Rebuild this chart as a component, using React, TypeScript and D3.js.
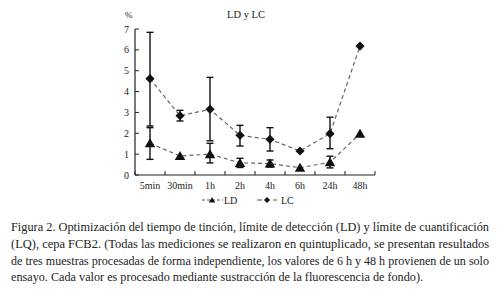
import React from "react";
import * as d3 from "d3";

const categories = ["5min", "30min", "1h", "2h", "4h", "6h", "24h", "48h"];
const ldValues = [1.52, 0.91, 1.0, 0.58, 0.55, 0.35, 0.61, 1.98];
const ldErrHigh: (number | null)[] = [2.27, null, 1.52, 0.8, 0.72, null, 0.9, null];
const ldErrLow: (number | null)[] = [0.75, null, 0.58, 0.36, 0.38, null, 0.34, null];
const lcValues = [4.62, 2.84, 3.15, 1.9, 1.71, 1.15, 1.98, 6.18];
const lcErrHigh: (number | null)[] = [6.84, 3.1, 4.68, 2.38, 2.27, null, 2.77, null];
const lcErrLow: (number | null)[] = [2.35, 2.59, 1.64, 1.39, 1.15, null, 1.26, null];
const yTicks = [0, 1, 2, 3, 4, 5, 6, 7];
const captionLines = [
  "Figura 2. Optimización del tiempo de tinción, límite de detección (LD) y límite de cuantificación",
  "(LQ), cepa FCB2. (Todas las mediciones se realizaron en quintuplicado, se presentan resultados",
  "de tres muestras procesadas de forma independiente, los valores de 6 h y 48 h provienen de un solo",
  "ensayo. Cada valor es procesado mediante sustracción de la fluorescencia de fondo).",
];

const W = 503;
const H = 297;
const plot = { left: 135, right: 375, top: 29, bottom: 175 };
const serif = "'Liberation Serif', 'DejaVu Serif', serif";

const triPath = (cx: number, cy: number, s: number) =>
  `M${cx},${cy - s}L${cx + s * 1.05},${cy + s * 0.8}L${cx - s * 1.05},${cy + s * 0.8}Z`;
const diaPath = (cx: number, cy: number, s: number) =>
  `M${cx},${cy - s}L${cx + s},${cy}L${cx},${cy + s}L${cx - s},${cy}Z`;

export default function App() {
  const x = d3.scaleBand<string>().domain(categories).range([plot.left, plot.right]);
  const y = d3.scaleLinear().domain([0, 7]).range([plot.bottom, plot.top]);
  const cx = (c: string) => (x(c) as number) + x.bandwidth() / 2;
  const line = d3
    .line<number>()
    .x((_, i) => cx(categories[i]))
    .y((v) => y(v));

  const errBars = (hi: (number | null)[], lo: (number | null)[], key: string) =>
    categories.map((c, i) => {
      const h = hi[i];
      const l = lo[i];
      if (h == null || l == null) return null;
      const px = cx(c);
      return (
        <g key={key + i} stroke="#111" strokeWidth={1.4}>
          <line x1={px} x2={px} y1={y(h)} y2={y(l)} />
          <line x1={px - 3.5} x2={px + 3.5} y1={y(h)} y2={y(h)} />
          <line x1={px - 3.5} x2={px + 3.5} y1={y(l)} y2={y(l)} />
        </g>
      );
    });

  const boundaries = d3.range(categories.length + 1).map((i) => plot.left + i * x.bandwidth());

  return (
    <svg
      width={W}
      height={H}
      style={{ position: "absolute", left: 0, top: 0, background: "#fff", fontFamily: serif }}
    >
      <rect width={W} height={H} fill="#fff" />
      <text x={125} y={18} fontSize={9} fill="#222">%</text>
      <text x={246} y={18} fontSize={10.5} textAnchor="middle" fill="#222">LD y LC</text>

      {/* axes */}
      <line x1={plot.left} x2={plot.left} y1={plot.top} y2={plot.bottom} stroke="#222" strokeWidth={1.2} />
      <line x1={plot.left} x2={plot.right} y1={plot.bottom} y2={plot.bottom} stroke="#222" strokeWidth={1.2} />
      {yTicks.map((t) => (
        <g key={"yt" + t}>
          <line x1={plot.left} x2={plot.left + 4} y1={y(t)} y2={y(t)} stroke="#222" strokeWidth={1} />
          <text x={plot.left - 6} y={y(t) + 3.5} fontSize={10} textAnchor="end" fill="#222">
            {t}
          </text>
        </g>
      ))}
      {boundaries.map((b, i) => (
        <line key={"xt" + i} x1={b} x2={b} y1={plot.bottom} y2={plot.bottom - 4} stroke="#222" strokeWidth={1} />
      ))}
      {categories.map((c) => (
        <text key={"xl" + c} x={cx(c)} y={189} fontSize={10} textAnchor="middle" fill="#222">
          {c}
        </text>
      ))}

      {/* lines */}
      <path d={line(ldValues) || ""} fill="none" stroke="#666" strokeWidth={1.2} strokeDasharray="4,3" />
      <path d={line(lcValues) || ""} fill="none" stroke="#666" strokeWidth={1.2} strokeDasharray="4,3" />

      {errBars(lcErrHigh, lcErrLow, "lc")}
      {errBars(ldErrHigh, ldErrLow, "ld")}

      {lcValues.map((v, i) => (
        <path key={"lcm" + i} d={diaPath(cx(categories[i]), y(v), 4.6)} fill="#111" />
      ))}
      {ldValues.map((v, i) => (
        <path key={"ldm" + i} d={triPath(cx(categories[i]), y(v), 5)} fill="#111" />
      ))}

      {/* legend */}
      <line x1={202} x2={223} y1={200} y2={200} stroke="#555" strokeWidth={1} strokeDasharray="3,2" />
      <path d={triPath(212, 200, 3)} fill="#111" />
      <text x={224} y={203.5} fontSize={10} fill="#222">LD</text>
      <line x1={257} x2={277} y1={200} y2={200} stroke="#555" strokeWidth={1} strokeDasharray="5,3" />
      <path d={diaPath(267, 200, 3)} fill="#111" />
      <text x={281} y={203.5} fontSize={10} fill="#222">LC</text>

      {/* caption */}
      {captionLines.map((l, i) => (
        <text
          key={"cap" + i}
          x={11}
          y={231 + i * 16.8}
          fontSize={12.3}
          fill="#222"
          textLength={i < 3 ? 478 : 412}
          lengthAdjust="spacingAndGlyphs"
        >
          {l}
        </text>
      ))}
    </svg>
  );
}
